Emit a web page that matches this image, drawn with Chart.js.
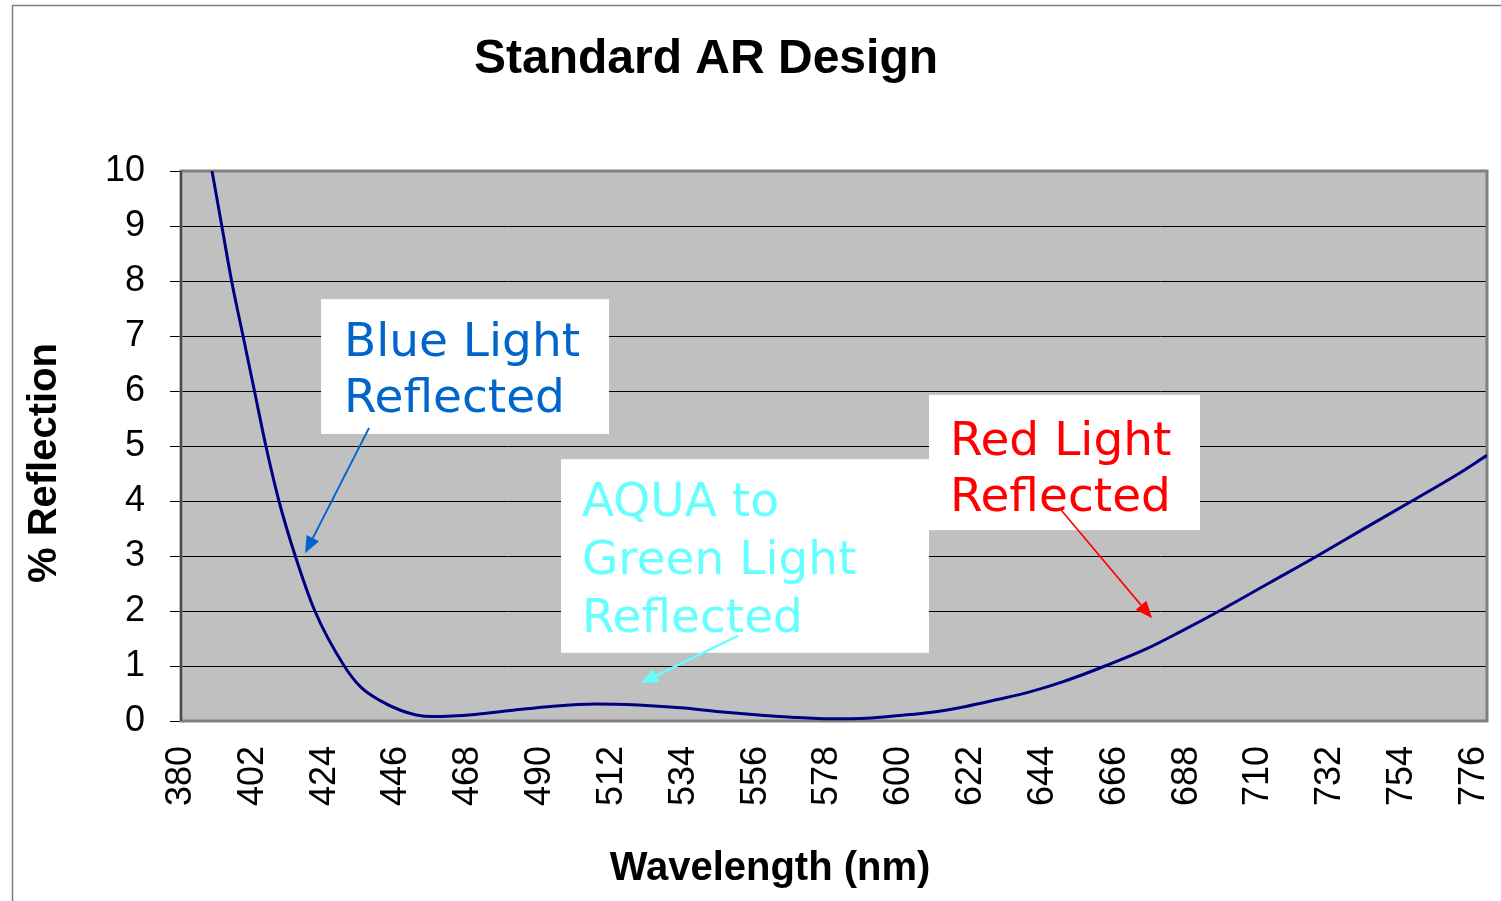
<!DOCTYPE html>
<html>
<head>
<meta charset="utf-8">
<title>Standard AR Design</title>
<script src="https://cdn.jsdelivr.net/npm/chart.js@4.4.1/dist/chart.umd.min.js"></script>
<style>
  html, body { margin: 0; padding: 0; background: #fff; }
  canvas { display: block; }
</style>
</head>
<body>
<canvas id="arChart" width="1501" height="901"></canvas>
<script>
// reflectance curve of the AR coating, % vs nm
const wavelengths = [389.5, 392.5, 395.5, 399, 402.5, 406, 410, 415, 421, 430, 435, 441, 447, 452, 457, 463, 470, 481, 494, 507, 520, 533, 545, 555, 567, 579, 590, 600, 610, 620, 630, 640, 650, 663, 676, 686, 698, 713, 728, 743, 757, 770, 780];
const reflection = [10.0, 9.0, 8.0, 7.0, 6.0, 5.0, 4.0, 3.0, 2.0, 1.0, 0.62, 0.37, 0.2, 0.11, 0.08, 0.09, 0.12, 0.19, 0.27, 0.31, 0.29, 0.24, 0.17, 0.12, 0.07, 0.04, 0.05, 0.1, 0.16, 0.26, 0.39, 0.53, 0.71, 1.0, 1.32, 1.62, 2.0, 2.5, 3.0, 3.52, 4.0, 4.45, 4.83];

const xTickLabels = [380, 402, 424, 446, 468, 490, 512, 534, 556, 578, 600, 622, 644, 666, 688, 710, 732, 754, 776];
const yTickLabels = [0, 1, 2, 3, 4, 5, 6, 7, 8, 9, 10];

// text boxes with arrows, placed in axis units (nm, %)
const callouts = [
  { lines: ["Blue Light", "Reflected"], color: "#0066cc", arrowWidth: 2,
    box: [422.9, 511.1, 7.67, 5.22], textX: 429.9, baselines: [6.64, 5.62],
    from: [437.6, 5.33], to: [418.0, 3.05] },
  { lines: ["AQUA to", "Green Light", "Reflected"], color: "#66ffff", arrowWidth: 2.5,
    box: [496.4, 609.1, 4.76, 1.24], textX: 502.8, baselines: [3.73, 2.67, 1.62],
    from: [550.6, 1.55], to: [520.9, 0.69] },
  { lines: ["Red Light", "Reflected"], color: "#ff0000", arrowWidth: 1.6,
    box: [609.1, 692.1, 5.93, 3.47], textX: 615.5, baselines: [4.84, 3.82],
    from: [649.5, 3.84], to: [677.4, 1.87] },
];

const plotFrame = {
  id: "plotFrame",
  beforeDraw(chart) {
    const { ctx, chartArea: a } = chart;
    ctx.save();
    // outer border of the whole chart
    ctx.strokeStyle = "#7f7f7f";
    ctx.lineWidth = 1.5;
    ctx.beginPath();
    ctx.moveTo(12.5, 901);
    ctx.lineTo(12.5, 5.5);
    ctx.lineTo(1501, 5.5);
    ctx.stroke();
    ctx.fillStyle = "#c0c0c0";
    ctx.fillRect(a.left, a.top, a.right - a.left, a.bottom - a.top);
    ctx.restore();
  },
  beforeDatasetsDraw(chart) {
    const { ctx, chartArea: a } = chart;
    ctx.save();
    ctx.strokeStyle = "#808080";
    ctx.lineWidth = 3;
    ctx.strokeRect(a.left, a.top, a.right - a.left, a.bottom - a.top);
    ctx.strokeStyle = "#4a4a4a";
    ctx.lineWidth = 2;
    ctx.beginPath();
    ctx.moveTo(a.left, a.top);
    ctx.lineTo(a.left, a.bottom);
    ctx.stroke();
    ctx.restore();
  },
  afterDatasetsDraw(chart) {
    const { ctx } = chart;
    const xs = chart.scales.x, ys = chart.scales.y;
    const px = v => xs.getPixelForValue(v);
    const py = v => ys.getPixelForValue(v);
    ctx.save();
    callouts.forEach(c => {
      const x0 = px(c.box[0]), x1 = px(c.box[1]);
      const y0 = py(c.box[2]), y1 = py(c.box[3]);
      ctx.fillStyle = "#ffffff";
      ctx.fillRect(x0, y0, x1 - x0, y1 - y0);

      ctx.fillStyle = c.color;
      ctx.font = '47px "DejaVu Sans"';
      ctx.textAlign = "left";
      ctx.textBaseline = "alphabetic";
      c.lines.forEach((t, i) => ctx.fillText(t, px(c.textX), py(c.baselines[i])));

      // arrow line + filled head
      const fx = px(c.from[0]), fy = py(c.from[1]);
      const tx = px(c.to[0]), ty = py(c.to[1]);
      const ang = Math.atan2(ty - fy, tx - fx);
      const len = 17, half = 7;
      const bx = tx - len * Math.cos(ang), by = ty - len * Math.sin(ang);
      ctx.strokeStyle = c.color;
      ctx.lineWidth = c.arrowWidth;
      ctx.beginPath();
      ctx.moveTo(fx, fy);
      ctx.lineTo(bx, by);
      ctx.stroke();
      ctx.beginPath();
      ctx.moveTo(tx, ty);
      ctx.lineTo(bx + half * Math.sin(ang), by - half * Math.cos(ang));
      ctx.lineTo(bx - half * Math.sin(ang), by + half * Math.cos(ang));
      ctx.closePath();
      ctx.fill();
    });
    ctx.restore();
  },
  afterDraw(chart) {
    const { ctx } = chart;
    ctx.save();
    ctx.fillStyle = "#000";
    ctx.textAlign = "center";
    ctx.textBaseline = "alphabetic";
    ctx.font = 'bold 48px "Liberation Sans"';
    ctx.fillText("Standard AR Design", 706, 73);
    ctx.font = 'bold 40px "Liberation Sans"';
    ctx.fillText("Wavelength (nm)", 770, 880);
    ctx.translate(56, 463);
    ctx.rotate(-Math.PI / 2);
    ctx.fillText("% Reflection", 0, 0);
    ctx.restore();
  }
};

new Chart(document.getElementById("arChart"), {
  type: "line",
  data: {
    datasets: [{
      data: wavelengths.map((w, i) => ({ x: w, y: reflection[i] })),
      borderColor: "#000080",
      borderWidth: 3,
      pointRadius: 0,
      cubicInterpolationMode: "monotone",
      fill: false,
    }],
  },
  options: {
    responsive: false,
    animation: false,
    layout: { padding: { top: 171, right: 14, bottom: 0, left: 0 } },
    plugins: {
      legend: { display: false },
      tooltip: { enabled: false },
    },
    scales: {
      x: {
        type: "linear",
        min: 380,
        max: 780,
        afterBuildTicks: s => { s.ticks = xTickLabels.map(v => ({ value: v })); },
        afterFit: s => {
          s.height = 180;
          // rotated labels fit inside the right margin already
          s.paddingLeft = 0;
          s.paddingRight = 0;
        },
        border: { display: false },
        grid: { display: false, drawTicks: false },
        ticks: {
          autoSkip: false,
          minRotation: 90,
          maxRotation: 90,
          padding: 25,
          color: "#000",
          font: { family: "Liberation Sans", size: 36 },
        },
      },
      y: {
        min: 0,
        max: 10,
        afterBuildTicks: s => { s.ticks = yTickLabels.map(v => ({ value: v })); },
        afterFit: s => { s.width = 181; },
        border: { display: false },
        grid: { color: "#000", lineWidth: 1, tickLength: 11, tickColor: "#000" },
        ticks: {
          padding: 25,
          color: "#000",
          font: { family: "Liberation Sans", size: 36 },
        },
      },
    },
  },
  plugins: [plotFrame],
});
</script>
</body>
</html>
